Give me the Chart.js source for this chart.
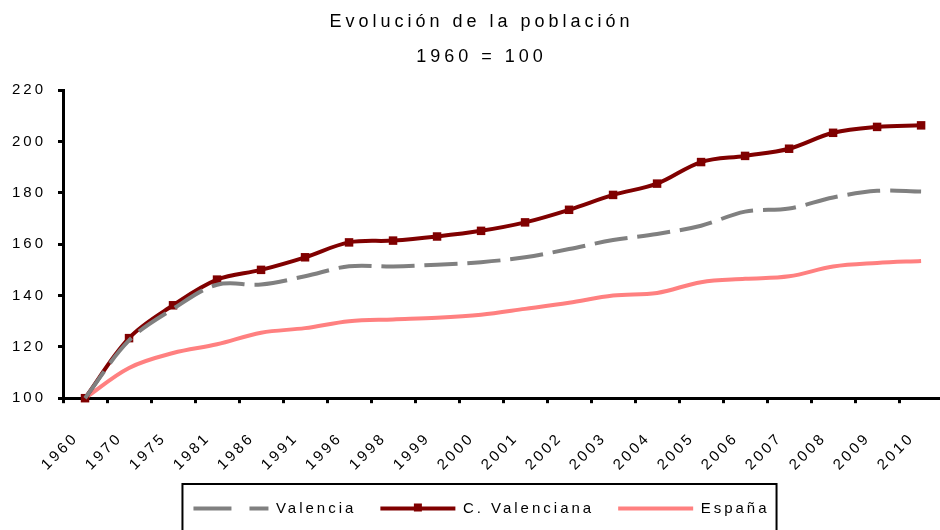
<!DOCTYPE html>
<html>
<head>
<meta charset="utf-8">
<script src="https://cdn.jsdelivr.net/npm/chart.js@4"></script>
<style>
  html, body { margin: 0; padding: 0; overflow: hidden; background: #fff; }
  #wrap { width: 960px; height: 540px; }
</style>
</head>
<body>
<div id="wrap"><canvas id="myChart" width="960" height="540"></canvas></div>
<script>
// años (categorías del eje X)
const years = ['1960', '1970', '1975', '1981', '1986', '1991', '1996', '1998', '1999', '2000',
  '2001', '2002', '2003', '2004', '2005', '2006', '2007', '2008', '2009', '2010'];

// índice 1960 = 100
const valencia = [100, 122.5, 134.8, 144.2, 144.3, 147.5, 151.4, 151.3, 152, 153,
  154.9, 158.1, 161.6, 164, 167.2, 172.7, 173.9, 178.2, 180.8, 180.5];
const cValenciana = [100, 123.4, 136.2, 146.2, 150, 154.9, 160.7, 161.4, 163, 165.2,
  168.5, 173.4, 179.2, 183.6, 192, 194.4, 197.2, 203.4, 205.7, 206.3];
const espana = [100, 111.8, 117.6, 121, 125.5, 127.3, 130, 130.7, 131.3, 132.5,
  134.8, 137.2, 140, 141, 145.2, 146.5, 147.5, 151.3, 152.7, 153.5];

const titleLines = ['Evolución de la población', '1960 = 100'];
const yMin = 100, yMax = 220, yStep = 20;

const font = "'Liberation Sans', Arial, sans-serif";

// espaciado de letras como en el original
const spacing = {
  id: 'spacing',
  afterInit(chart) {
    const block = chart.titleBlock;
    const draw = block.draw.bind(block);
    block.draw = function () {
      chart.ctx.save();
      chart.ctx.letterSpacing = '4px';
      draw();
      chart.ctx.restore();
    };
  },
  beforeUpdate(chart) { chart.ctx.letterSpacing = '3px'; },
  beforeLayout(chart) { chart.ctx.letterSpacing = '3px'; },
  beforeDraw(chart) { chart.ctx.letterSpacing = '3px'; }
};

// marco de la leyenda + marcador cuadrado de C. Valenciana
const legendFrame = {
  id: 'legendFrame',
  afterDraw(chart) {
    const lg = chart.legend;
    if (!lg || !lg.legendHitBoxes.length) return;
    const boxes = lg.legendHitBoxes;
    const ctx = chart.ctx;
    const left = Math.min(...boxes.map(b => b.left)) - 11;
    const right = Math.max(...boxes.map(b => b.left + b.width)) + 7;
    const top = boxes[0].top - 17;
    ctx.save();
    ctx.strokeStyle = '#000';
    ctx.lineWidth = 2;
    ctx.strokeRect(left, top, right - left, 60);
    const b = boxes[1];
    ctx.fillStyle = '#800000';
    ctx.fillRect(b.left + 75 / 2 - 4, b.top + b.height / 2 - 5, 8, 8);
    ctx.restore();
  }
};

const ctx = document.getElementById('myChart').getContext('2d');
new Chart(ctx, {
  type: 'line',
  data: {
    labels: years,
    datasets: [
      {
        label: 'Valencia',
        data: valencia,
        borderColor: '#808080',
        backgroundColor: '#808080',
        borderWidth: 4,
        borderDash: [33, 10],
        pointRadius: 0,
        tension: 0.35,
        clip: false
      },
      {
        label: 'C. Valenciana',
        data: cValenciana,
        borderColor: '#800000',
        backgroundColor: '#800000',
        borderWidth: 4,
        pointStyle: 'rect',
        pointRadius: 6,
        pointBorderWidth: 0,
        tension: 0.35,
        clip: false
      },
      {
        label: 'España',
        data: espana,
        borderColor: '#ff8080',
        backgroundColor: '#ff8080',
        borderWidth: 4,
        pointRadius: 0,
        tension: 0.35,
        clip: false
      }
    ]
  },
  options: {
    responsive: false,
    animation: false,
    devicePixelRatio: 1,
    layout: { padding: { left: 10, right: 7, top: 0, bottom: 14 } },
    plugins: {
      title: {
        display: true,
        text: titleLines,
        color: '#000',
        font: { family: font, size: 18, weight: 'normal', lineHeight: 1.95 },
        padding: { top: 4, bottom: 16 }
      },
      legend: {
        position: 'bottom',
        labels: {
          color: '#000',
          font: { family: font, size: 15 },
          boxWidth: 75,
          boxHeight: 0,
          padding: 24,
          generateLabels(chart) {
            const items = Chart.defaults.plugins.legend.labels.generateLabels(chart);
            items[0].lineDash = [35, 21];
            return items;
          }
        }
      },
      tooltip: { enabled: false }
    },
    scales: {
      x: {
        offset: true,
        afterFit(scale) { scale.height -= 23; },
        grid: { display: true, drawOnChartArea: false, offset: true, color: '#000', lineWidth: 3, tickLength: 5 },
        border: { color: '#000', width: 3 },
        ticks: {
          color: '#000',
          font: { family: font, size: 15 },
          minRotation: 45,
          maxRotation: 45,
          autoSkip: false,
          padding: 26,
          labelOffset: -9
        }
      },
      y: {
        min: yMin,
        max: yMax,
        afterFit(scale) { scale.width -= 10; },
        grid: { display: true, drawOnChartArea: false, color: '#000', lineWidth: 3, tickLength: 5 },
        border: { color: '#000', width: 3 },
        ticks: {
          stepSize: yStep,
          color: '#000',
          font: { family: font, size: 15 },
          padding: 12
        }
      }
    }
  },
  plugins: [spacing, legendFrame]
});
</script>
</body>
</html>
